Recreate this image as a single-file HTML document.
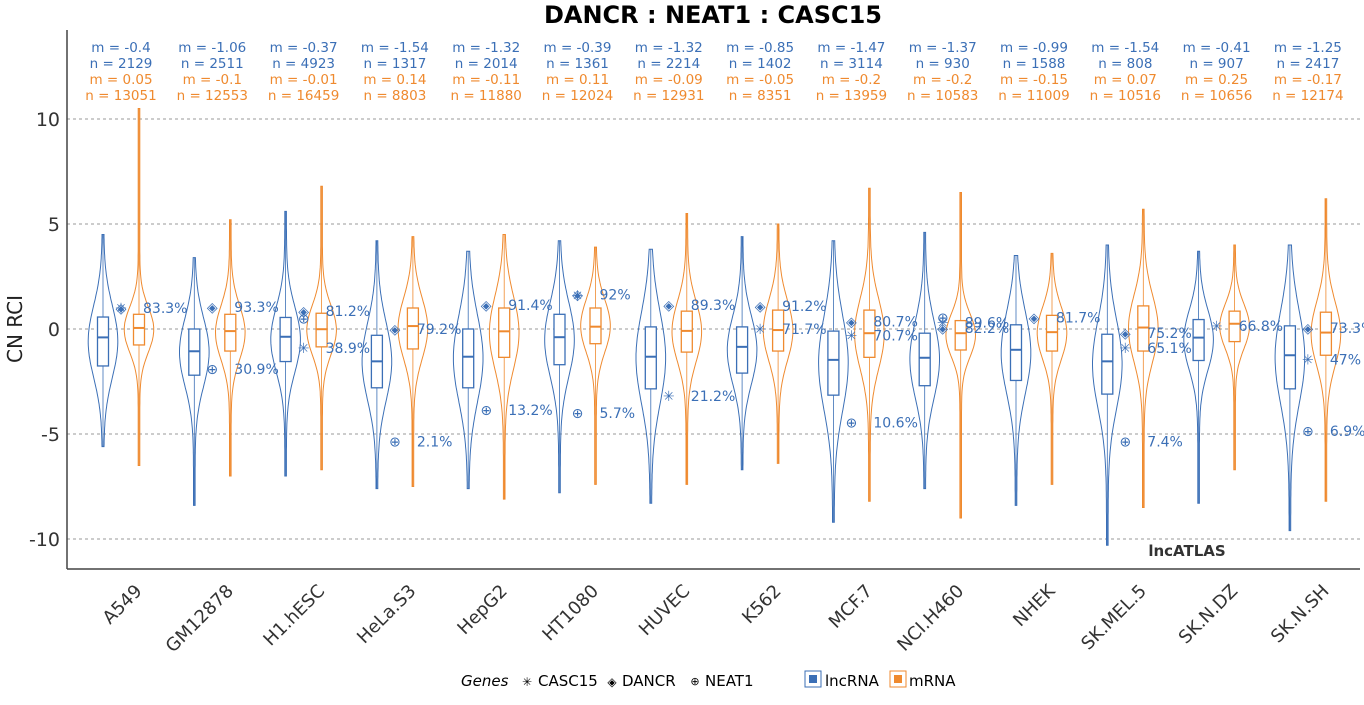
<!DOCTYPE html>
<html><head><meta charset="utf-8"><style>
body{margin:0;background:#fff;font-family:"Liberation Sans","DejaVu Sans",sans-serif}
svg text{font-family:"DejaVu Sans","Liberation Sans",sans-serif}
</style></head><body>
<svg id="chart" width="1364" height="700" xmlns="http://www.w3.org/2000/svg">
<text x="713" y="23" text-anchor="middle" font-size="24" font-weight="bold">DANCR : NEAT1 : CASC15</text>
<text x="0" y="0" transform="translate(22,329) rotate(-90)" text-anchor="middle" font-size="20" fill="#222">CN RCI</text>
<text x="1187" y="556" text-anchor="middle" font-size="15" font-weight="bold" fill="#333">lncATLAS</text>
<g id="grid"></g><g id="marks"></g>
<line x1="67" y1="30" x2="67" y2="569" stroke="#444" stroke-width="1.5"/>
<line x1="67" y1="569" x2="1360" y2="569" stroke="#444" stroke-width="1.5"/>
<g font-size="15">
<text x="461" y="686" font-style="italic">Genes</text>
<text x="527" y="686" font-size="12" text-anchor="middle">✳</text>
<text x="538" y="686">CASC15</text>
<text x="612" y="686" font-size="12" text-anchor="middle">◈</text>
<text x="622" y="686">DANCR</text>
<text x="695" y="685" font-size="11" text-anchor="middle">⊕</text>
<text x="705" y="686">NEAT1</text>
<rect x="805" y="671" width="16" height="16" fill="#fff" stroke="#3b6fb6"/>
<rect x="809" y="675" width="8" height="8" fill="#3b6fb6"/>
<text x="825" y="686">lncRNA</text>
<rect x="890" y="671" width="16" height="16" fill="#fff" stroke="#ef8a2f"/>
<rect x="894" y="675" width="8" height="8" fill="#ef8a2f"/>
<text x="909" y="686">mRNA</text>
</g>
</svg>
<script>
const categories=["A549","GM12878","H1.hESC","HeLa.S3","HepG2","HT1080","HUVEC","K562","MCF.7","NCI.H460","NHEK","SK.MEL.5","SK.N.DZ","SK.N.SH"];
const lncMean=[-0.4,-1.06,-0.37,-1.54,-1.32,-0.39,-1.32,-0.85,-1.47,-1.37,-0.99,-1.54,-0.41,-1.25];
const lncN=[2129,2511,4923,1317,2014,1361,2214,1402,3114,930,1588,808,907,2417];
const mMean=[0.05,-0.1,-0.01,0.14,-0.11,0.11,-0.09,-0.05,-0.2,-0.2,-0.15,0.07,0.25,-0.17];
const mN=[13051,12553,16459,8803,11880,12024,12931,8351,13959,10583,11009,10516,10656,12174];
const lncQ1=[-1.76,-2.2,-1.55,-2.8,-2.8,-1.7,-2.85,-2.1,-3.15,-2.7,-2.45,-3.1,-1.5,-2.85];
const lncQ3=[0.57,0,0.55,-0.3,0,0.7,0.1,0.1,-0.1,-0.2,0.2,-0.25,0.45,0.15];
const lncMin=[-5.6,-8.4,-7,-7.6,-7.6,-7.8,-8.3,-6.7,-9.2,-7.6,-8.4,-10.3,-8.3,-9.6];
const lncMax=[4.5,3.4,5.6,4.2,3.7,4.2,3.8,4.4,4.2,4.6,3.5,4.0,3.7,4.0];
const mQ1=[-0.76,-1.05,-0.85,-0.95,-1.35,-0.7,-1.1,-1.05,-1.35,-1.0,-1.05,-1.05,-0.6,-1.25];
const mQ3=[0.7,0.7,0.75,1.0,1.0,1.0,0.85,0.9,0.9,0.4,0.65,1.1,0.85,0.8];
const mMin=[-6.5,-7,-6.7,-7.5,-8.1,-7.4,-7.4,-6.4,-8.2,-9,-7.4,-8.5,-6.7,-8.2];
const mMax=[10.5,5.2,6.8,4.4,4.5,3.9,5.5,5.0,6.7,6.5,3.6,5.7,4.0,6.2];
// gene points: [categoryIndex, gene, value, label]
const genePoints=[
[0,"DANCR",1.0,"83.3%"],[0,"CASC15",1.0,""],
[1,"DANCR",1.05,"93.3%"],[1,"NEAT1",-1.9,"30.9%"],
[2,"DANCR",0.85,"81.2%"],[2,"NEAT1",0.5,""],[2,"CASC15",-0.9,"38.9%"],
[3,"DANCR",0,"79.2%"],[3,"NEAT1",-5.35,"2.1%"],
[4,"DANCR",1.15,"91.4%"],[4,"NEAT1",-3.85,"13.2%"],
[5,"DANCR",1.65,"92%"],[5,"CASC15",1.6,""],[5,"NEAT1",-4.0,"5.7%"],
[6,"DANCR",1.15,"89.3%"],[6,"CASC15",-3.2,"21.2%"],
[7,"DANCR",1.1,"91.2%"],[7,"CASC15",0,"71.7%"],
[8,"DANCR",0.35,"80.7%"],[8,"CASC15",-0.3,"70.7%"],[8,"NEAT1",-4.45,"10.6%"],
[9,"NEAT1",0.55,""],[9,"CASC15",0.3,"89.6%"],[9,"DANCR",0.05,"82.2%"],
[10,"DANCR",0.55,"81.7%"],
[11,"DANCR",-0.2,"75.2%"],[11,"CASC15",-0.9,"65.1%"],[11,"NEAT1",-5.35,"7.4%"],
[12,"CASC15",0.15,"66.8%"],
[13,"DANCR",0.05,"73.3%"],[13,"CASC15",-1.45,"47%"],[13,"NEAT1",-4.85,"6.9%"]];
const yTicks=[10,5,0,-5,-10];

const NS="http://www.w3.org/2000/svg";
const BLUE="#3b6fb6",ORANGE="#ef8a2f";
function y(v){return 329-21*v;}
function xc(i){return 121+91.3*i;}
function mk(tag,attrs,parent){const e=document.createElementNS(NS,tag);for(const k in attrs)e.setAttribute(k,attrs[k]);parent.appendChild(e);return e;}
const grid=document.getElementById('grid'),marks=document.getElementById('marks');
yTicks.forEach(t=>{
  const l=mk('line',{x1:67,x2:1360,y1:y(t),y2:y(t),stroke:'#999','stroke-dasharray':'3,3','stroke-width':1},grid);
  
  
  const tx=mk('text',{x:60,y:y(t)+7,'text-anchor':'end','font-size':19,fill:'#333'},grid);
  tx.textContent=t;
  
  
});
function violin(cx,med,q1,q3,mn,mx,col,name){
  const g=mk('g',{},marks);
  
  
  const s=Math.max((q3-q1)/1.35,0.5);const c=(q1+q3)/2;
  let L=[],R=[];
  for(let k=0;k<=80;k++){const v=mx-(mx-mn)*k/80;const d=Math.exp(-0.5*Math.pow((v-c)/s,2));const w=0.8+14*d;
    R.push((cx+w).toFixed(1)+","+y(v).toFixed(1));L.unshift((cx-w).toFixed(1)+","+y(v).toFixed(1));}
  mk('path',{d:"M"+R.join("L")+"L"+L.join("L")+"Z",fill:'none',stroke:col,'stroke-width':1},g);
  mk('line',{x1:cx,x2:cx,y1:y(mx),y2:y(mn),stroke:col,'stroke-width':0.8},g);
  mk('rect',{x:cx-5.5,y:y(q3),width:11,height:y(q1)-y(q3),fill:'#fff',stroke:col,'stroke-width':1.3},g);
  mk('line',{x1:cx-5.5,x2:cx+5.5,y1:y(med),y2:y(med),stroke:col,'stroke-width':2},g);
}
const sym={CASC15:"✳",DANCR:"◈",NEAT1:"⊕"};
categories.forEach((c,i)=>{
  const cx=xc(i);
  violin(cx-18,lncMean[i],lncQ1[i],lncQ3[i],lncMin[i],lncMax[i],BLUE,'violin-lncrna-'+c);
  violin(cx+18,mMean[i],mQ1[i],mQ3[i],mMin[i],mMax[i],ORANGE,'violin-mrna-'+c);
  const lines=[["m = "+lncMean[i],BLUE],["n = "+lncN[i],BLUE],["m = "+mMean[i],ORANGE],["n = "+mN[i],ORANGE]];
  lines.forEach((l,j)=>{const t=mk('text',{x:cx,y:52+j*16,'text-anchor':'middle','font-size':13.5,fill:l[1]},marks);t.textContent=l[0];
    
    });
  const xl=mk('text',{x:0,y:0,transform:`translate(${cx+22},592) rotate(-45)`,'text-anchor':'end','font-size':18,fill:'#333'},marks);
  xl.textContent=c;
  
  
});
genePoints.forEach(p=>{
  const cx=xc(p[0]);
  const t=mk('text',{x:cx,y:y(p[2])+5,'text-anchor':'middle','font-size':14,fill:BLUE},marks);
  t.textContent=sym[p[1]];
  
  
  if(p[3]){const l=mk('text',{x:cx+22,y:y(p[2])+5,'font-size':14,fill:BLUE},marks);l.textContent=p[3];
    
    }
});
</script>
</body></html>
